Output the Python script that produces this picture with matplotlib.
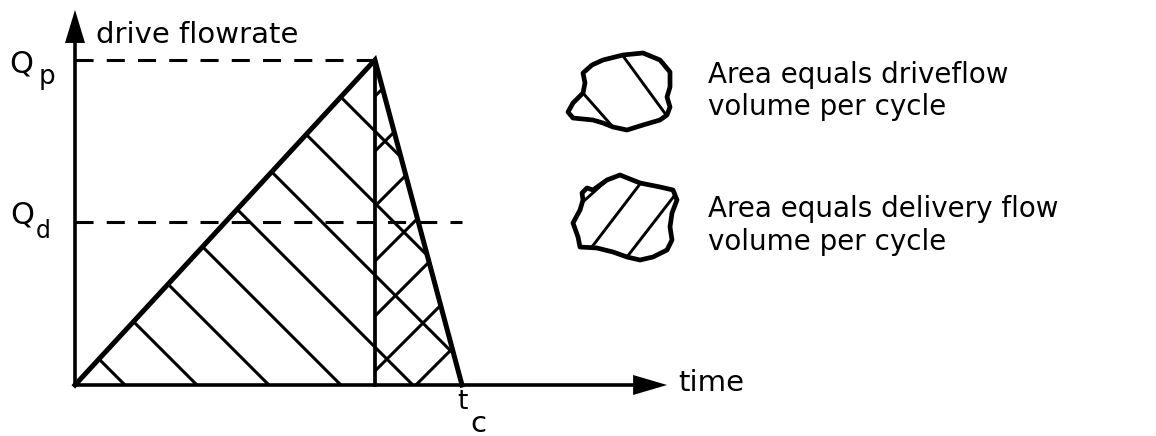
import matplotlib
matplotlib.use('Agg')
import matplotlib.pyplot as plt
import matplotlib.transforms as mtransforms
from matplotlib.patches import Polygon
import numpy as np

# 도식 데이터 (상대 단위: 시간 t, 유량 Q)
t_peak = 0.775          # 최대 유량 시점
t_c = 1.0               # 한 사이클 시간
Q_p = 1.0               # 최대 구동 유량
Q_d = 0.5               # 평균 배출 유량
t_axis_end = 1.53       # x축 화살표 끝
Q_axis_end = 1.154      # y축 화살표 끝

# 빗금 간격 (밑변과 만나는 위치)
drive_hatch_start = 0.129
drive_hatch_step = 0.186
deliv_hatch_start = 0.881
deliv_hatch_step = 0.142

# 범례 모양 (픽셀 좌표)
blob1 = [(583, 73), (592, 65), (603, 60), (623, 55), (643, 53), (660, 60), (670, 72),
         (670, 87), (667, 97), (670, 107), (667, 115), (660, 120), (643, 125), (627, 130),
         (613, 127), (603, 123), (593, 120), (573, 118), (568, 112), (573, 103), (583, 93),
         (585, 83)]
blob2 = [(582, 193), (587, 188), (593, 190), (607, 180), (620, 175), (640, 183), (660, 187),
         (673, 190), (677, 200), (672, 213), (670, 227), (672, 240), (667, 250), (653, 257),
         (640, 260), (627, 257), (613, 252), (597, 248), (580, 247), (578, 237), (573, 223),
         (580, 210), (583, 200)]
blob1_lines = [((575, 84), (620, 135)), ((615, 45), (672, 123))]
blob2_lines = [((575, 209), (605, 182)), ((585, 256), (640, 184)), ((620, 266), (678, 191))]

legend_texts = [('Area equals driveflow', 83), ('volume per cycle', 115),
                ('Area equals delivery flow', 217), ('volume per cycle', 250)]

W, H = 1156, 436
plt.rcParams['font.family'] = ['DejaVu Sans']
plt.rcParams['lines.scale_dashes'] = False

fig = plt.figure(figsize=(W / 100, H / 100), dpi=100)
ax = fig.add_axes([0, 0, 1, 1])
sx, sy = 387.0, 325.0           # 단위당 픽셀
ax.set_xlim(-75 / sx, (W - 75) / sx)
ax.set_ylim(-(H - 385) / sy, 385 / sy)
ax.axis('off')
px = mtransforms.Affine2D().scale(1 / W, -1 / H).translate(0, 1) + fig.transFigure
k = sx / sy

# 축과 화살표
ax.plot([0, t_axis_end - 0.05], [0, 0], color='k', lw=2.6, solid_capstyle='butt')
ax.plot([0, 0], [-1.5 / sy, Q_axis_end - 0.05], color='k', lw=2.6, solid_capstyle='butt')
ax.add_patch(Polygon([(t_axis_end, 0), (t_axis_end - 34 / sx, 10 / sy),
                      (t_axis_end - 34 / sx, -10 / sy)], closed=True, color='k', lw=0))
ax.add_patch(Polygon([(0, Q_axis_end), (-10 / sx, Q_axis_end - 33 / sy),
                      (10 / sx, Q_axis_end - 33 / sy)], closed=True, color='k', lw=0))

# 점선
ax.plot([0, t_peak], [Q_p, Q_p], color='k', lw=2.2, dashes=(13, 9.5), dash_capstyle='butt')
ax.plot([0, t_c], [Q_d, Q_d], color='k', lw=2.2, dashes=(13, 9.5), dash_capstyle='butt')

# 빗금 영역
drive_tri = Polygon([(0, 0), (t_peak, Q_p), (t_c, 0)], closed=True, fill=False, lw=0)
deliv_tri = Polygon([(t_peak, 0), (t_peak, Q_p), (t_c, 0)], closed=True, fill=False, lw=0)
ax.add_patch(drive_tri)
ax.add_patch(deliv_tri)

a = drive_hatch_start
while a < t_c + Q_p / k:
    ln, = ax.plot([a, a - 1.3 / k], [0, 1.3], color='k', lw=2.2)
    ln.set_clip_path(drive_tri)
    a += drive_hatch_step
b = deliv_hatch_start
while b > t_peak - Q_p / k:
    ln, = ax.plot([b, b + 1.3 / k], [0, 1.3], color='k', lw=2.2)
    ln.set_clip_path(deliv_tri)
    b -= deliv_hatch_step

# 삼각형 외곽선
ax.plot([0, t_peak, t_c], [0, Q_p, 0], color='k', lw=3.6, solid_joinstyle='miter')
ax.plot([t_peak, t_peak], [0, Q_p], color='k', lw=2.7)

# 글자
ax.text(96, 43, 'drive flowrate', transform=px, fontsize=21, va='baseline')
ax.text(9, 73, 'Q', transform=px, fontsize=22, va='baseline')
ax.text(39, 84, 'p', transform=px, fontsize=19, va='baseline')
ax.text(10, 223, 'Q', transform=px, fontsize=22, va='baseline')
ax.text(36, 238, 'd', transform=px, fontsize=17, va='baseline')
ax.text(457, 409, 't', transform=px, fontsize=19, va='baseline')
ax.text(470, 432, 'c', transform=px, fontsize=21, va='baseline')
ax.text(678, 391, 'time', transform=px, fontsize=21, va='baseline')

# 범례
for shape, lines in [(blob1, blob1_lines), (blob2, blob2_lines)]:
    p = Polygon(shape, closed=True, fill=False, lw=3.4, ec='k', transform=px,
                joinstyle='round')
    ax.add_patch(p)
    for (x0, y0), (x1, y1) in lines:
        ln, = ax.plot([x0, x1], [y0, y1], color='k', lw=2.1, transform=px)
        ln.set_clip_path(p)
for txt, yb in legend_texts:
    ax.text(708, yb, txt, transform=px, fontsize=20, va='baseline')

fig.savefig('out.png', dpi=100)
